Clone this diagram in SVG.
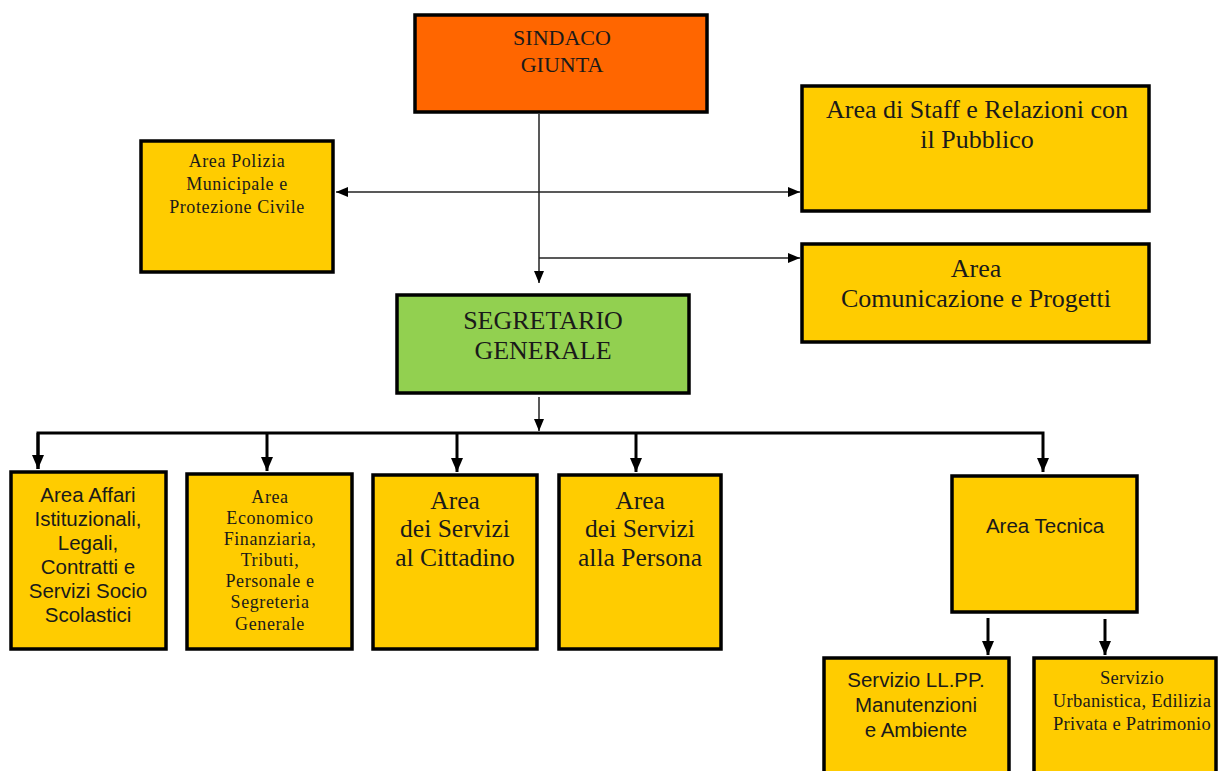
<svg xmlns="http://www.w3.org/2000/svg" width="1218" height="771" viewBox="0 0 1218 771">
<style>
.box{stroke:#000;stroke-width:3.5}
.org{fill:#FF6600}
.yel{fill:#FFCC00}
.grn{fill:#92D050}
.serif{font-family:"Liberation Serif","Times New Roman",serif;fill:#1a1a1a;text-anchor:middle}
.sm{letter-spacing:0.6px}
.sans{font-family:"Liberation Sans",Arial,sans-serif;fill:#1a1a1a;text-anchor:middle}
.thin{stroke:#222;stroke-width:1.5;fill:none}
.thick{stroke:#000;stroke-width:3;fill:none}
</style>
<defs>
<marker id="ah" markerUnits="userSpaceOnUse" markerWidth="12" markerHeight="12" viewBox="0 0 12 12" refX="12" refY="6" orient="auto-start-reverse">
<path d="M0,1 L12,6 L0,11 Z" fill="#000"/>
</marker>
<marker id="ahb" markerUnits="userSpaceOnUse" markerWidth="14" markerHeight="14" viewBox="0 0 14 14" refX="14" refY="7" orient="auto">
<path d="M0,1 L14,7 L0,13 Z" fill="#000"/>
</marker>
</defs>
<rect width="1218" height="771" fill="#fff"/>
<g id="connectors">
<line class="thin" x1="539" y1="114" x2="539" y2="283" marker-end="url(#ah)"/>
<line class="thin" x1="336" y1="192" x2="800" y2="192" marker-start="url(#ah)" marker-end="url(#ah)"/>
<line class="thin" x1="539" y1="258" x2="800" y2="258" marker-end="url(#ah)"/>
<line class="thin" x1="539" y1="397" x2="539" y2="431" marker-end="url(#ah)"/>
<polyline class="thick" points="38,469 38,433 1043,433 1043,472" marker-end="url(#ahb)"/>
<line class="thick" x1="38" y1="433" x2="38" y2="469" marker-end="url(#ahb)"/>
<line class="thick" x1="267" y1="433" x2="267" y2="471" marker-end="url(#ahb)"/>
<line class="thick" x1="457" y1="433" x2="457" y2="472" marker-end="url(#ahb)"/>
<line class="thick" x1="636" y1="433" x2="636" y2="472" marker-end="url(#ahb)"/>
<line class="thick" x1="988" y1="618" x2="988" y2="655" marker-end="url(#ahb)"/>
<line class="thick" x1="1105" y1="619" x2="1105" y2="655" marker-end="url(#ahb)"/>
</g>
<g id="sindaco">
<rect class="box org" x="415" y="15" width="292" height="97"/>
<text class="serif" font-size="22" x="562" y="45">SINDACO</text>
<text class="serif" font-size="22" x="562" y="72">GIUNTA</text>
</g>
<g id="polizia">
<rect class="box yel" x="141" y="141" width="192" height="131"/>
<text class="serif sm" font-size="18" x="237" y="167">Area Polizia</text>
<text class="serif sm" font-size="18" x="237" y="190">Municipale e</text>
<text class="serif sm" font-size="18" x="237" y="213">Protezione  Civile</text>
</g>
<g id="staff">
<rect class="box yel" x="802" y="86" width="347" height="125"/>
<text class="serif" font-size="26" x="977" y="118">Area di Staff e Relazioni con</text>
<text class="serif" font-size="26" x="977" y="148">il Pubblico</text>
</g>
<g id="comunicazione">
<rect class="box yel" x="802" y="244" width="347" height="98"/>
<text class="serif" font-size="26" x="976" y="277">Area</text>
<text class="serif" font-size="26" x="976" y="307">Comunicazione e Progetti</text>
</g>
<g id="segretario">
<rect class="box grn" x="397" y="295" width="292" height="98"/>
<text class="serif" font-size="26" x="543" y="329">SEGRETARIO</text>
<text class="serif" font-size="26" x="543" y="359">GENERALE</text>
</g>
<g id="affari">
<rect class="box yel" x="11" y="472" width="155" height="177"/>
<text class="sans" font-size="20.5" x="88" y="502">Area Affari</text>
<text class="sans" font-size="20.5" x="88" y="526">Istituzionali,</text>
<text class="sans" font-size="20.5" x="88" y="550">Legali,</text>
<text class="sans" font-size="20.5" x="88" y="574">Contratti e</text>
<text class="sans" font-size="20.5" x="88" y="598">Servizi Socio</text>
<text class="sans" font-size="20.5" x="88" y="622">Scolastici</text>
</g>
<g id="economico">
<rect class="box yel" x="187" y="474" width="165" height="175"/>
<text class="serif sm" font-size="18" x="270" y="503">Area</text>
<text class="serif sm" font-size="18" x="270" y="524">Economico</text>
<text class="serif sm" font-size="18" x="270" y="545">Finanziaria,</text>
<text class="serif sm" font-size="18" x="270" y="566">Tributi,</text>
<text class="serif sm" font-size="18" x="270" y="587">Personale e</text>
<text class="serif sm" font-size="18" x="270" y="608">Segreteria</text>
<text class="serif sm" font-size="18" x="270" y="630">Generale</text>
</g>
<g id="cittadino">
<rect class="box yel" x="373" y="475" width="164" height="174"/>
<text class="serif" font-size="25.5" x="455" y="509">Area</text>
<text class="serif" font-size="25.5" x="455" y="537">dei Servizi</text>
<text class="serif" font-size="25.5" x="455" y="566">al Cittadino</text>
</g>
<g id="persona">
<rect class="box yel" x="559" y="475" width="162" height="174"/>
<text class="serif" font-size="25.5" x="640" y="509">Area</text>
<text class="serif" font-size="25.5" x="640" y="537">dei Servizi</text>
<text class="serif" font-size="25.5" x="640" y="566">alla Persona</text>
</g>
<g id="tecnica">
<rect class="box yel" x="952" y="476" width="185" height="136"/>
<text class="sans" font-size="20.5" x="1045" y="533">Area Tecnica</text>
</g>
<g id="llpp">
<rect class="box yel" x="824" y="658" width="185" height="120"/>
<text class="sans" font-size="20.5" x="916" y="687">Servizio LL.PP.</text>
<text class="sans" font-size="20.5" x="916" y="712">Manutenzioni</text>
<text class="sans" font-size="20.5" x="916" y="737">e Ambiente</text>
</g>
<g id="urbanistica">
<rect class="box yel" x="1034" y="658" width="182" height="120"/>
<text class="serif" font-size="18.5" letter-spacing="0.3" x="1132" y="684">Servizio</text>
<text class="serif" font-size="18.5" letter-spacing="0.3" x="1132" y="707">Urbanistica, Edilizia</text>
<text class="serif" font-size="18.5" letter-spacing="0.3" x="1132" y="730">Privata e Patrimonio</text>
</g>
</svg>
